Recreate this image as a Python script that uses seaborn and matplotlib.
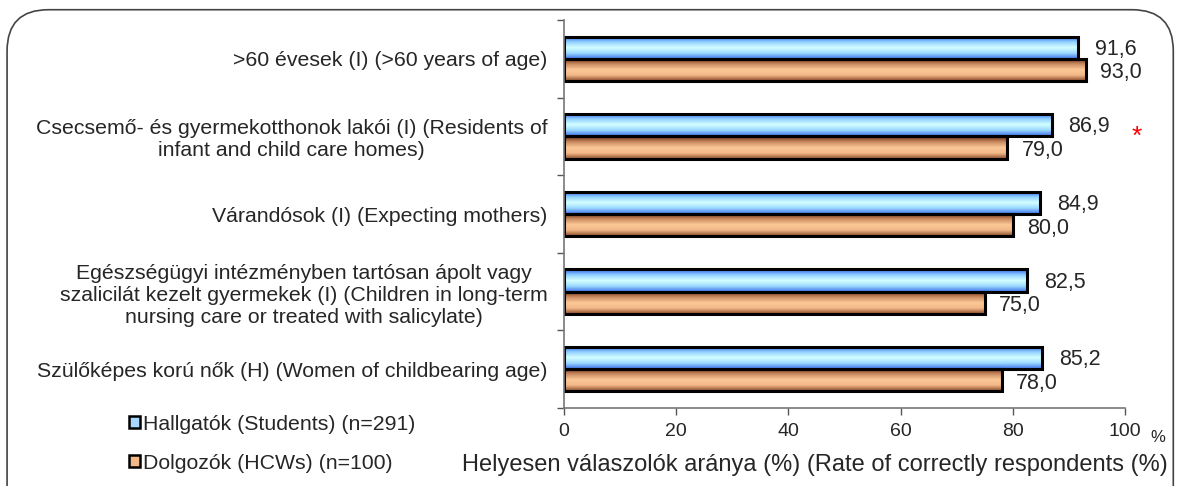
from matplotlib import pyplot as plt
from matplotlib.patches import FancyBboxPatch, Patch
import matplotlib.colors as mcolors
import seaborn as sns
import numpy as np
import pandas as pd


# Dados
categorias = [
    '>60 évesek (I) (>60 years of age)',
    'Csecsemő- és gyermekotthonok lakói (I) (Residents of\ninfant and child care homes)',
    'Várandósok (I) (Expecting mothers)',
    'Egészségügyi intézményben tartósan ápolt vagy\nszalicilát kezelt gyermekek (I) (Children in long-term\nnursing care or treated with salicylate)',
    'Szülőképes korú nők (H) (Women of childbearing age)',
]
hallgatok = [91.6, 86.9, 84.9, 82.5, 85.2]
dolgozok = [93.0, 79.0, 80.0, 75.0, 78.0]
valores_txt_h = ['91,6', '86,9', '84,9', '82,5', '85,2']
valores_txt_d = ['93,0', '79,0', '80,0', '75,0', '78,0']
grupos = ['Hallgatók (Students) (n=291)', 'Dolgozók (HCWs) (n=100)']

df = pd.DataFrame({
    'cat': categorias * 2,
    'val': hallgatok + dolgozok,
    'grupo': [grupos[0]] * 5 + [grupos[1]] * 5,
})

sns.set_style('white')
plt.rcParams['font.family'] = ['Liberation Sans', 'DejaVu Sans']

fig = plt.figure(figsize=(11.78, 4.86), dpi=100)
ax = fig.add_axes([0.4788, 0.1605, 0.4762, 0.7983])

cores = {grupos[0]: '#a8e0ff', grupos[1]: '#f2bc8c'}
sns.barplot(data=df, x='val', y='cat', hue='grupo', hue_order=grupos,
            palette=cores, orient='h', width=0.57, edgecolor='black',
            linewidth=2.2, legend=False, ax=ax)

# gradiente nas barras
grad_azul = mcolors.LinearSegmentedColormap.from_list(
    'az', ['#2f5fe8', '#8fd0ff', '#d4ffff', '#9ad8ff', '#3d6fe8'])
grad_lar = mcolors.LinearSegmentedColormap.from_list(
    'lr', ['#6b2a12', '#c88a60', '#fcc896', '#f2b888', '#8a4a2a'])
n = len(categorias)
for i, p in enumerate(list(ax.patches)):
    cmap = grad_azul if i < n else grad_lar
    x0, y0 = p.get_x(), p.get_y()
    w, h = p.get_width(), p.get_height()
    g = np.linspace(0, 1, 64).reshape(-1, 1)
    im = ax.imshow(g, cmap=cmap, aspect='auto', extent=[x0, x0 + w, y0 + h, y0],
                   zorder=p.get_zorder() + 0.1, interpolation='bilinear')
    im.set_clip_path(p)
    p.set_zorder(p.get_zorder() + 0.2)
    p.set_facecolor('none')

ax.set_xlim(0, 100)
ax.set_ylim(n - 0.5, -0.5)
ax.set_xticks([0, 20, 40, 60, 80, 100])
ax.tick_params(axis='x', labelsize=14, length=5, width=1, color='#555555',
               direction='out', bottom=True, pad=6)
ax.set_yticks(range(n))
ax.set_yticklabels(categorias, fontsize=15.3, multialignment='center')
ax.set_yticks(np.arange(-0.5, n, 1), minor=True)
ax.tick_params(axis='y', which='major', length=0, pad=12)
ax.tick_params(axis='y', which='minor', length=5, width=1, color='#555555',
               direction='out', left=True)
for s in ['top', 'right']:
    ax.spines[s].set_visible(False)
for s in ['left', 'bottom']:
    ax.spines[s].set_color('#777777')
    ax.spines[s].set_linewidth(1.2)
ax.set_xlabel('')
ax.set_ylabel('')

# rótulos de valores
off = 0.57 / 4
for i in range(n):
    ax.text(hallgatok[i] + 3.0, i - off + 0.02, valores_txt_h[i], va='center',
            ha='left', fontsize=15.5)
    ax.text(dolgozok[i] + 2.6, i + off + 0.04, valores_txt_d[i], va='center',
            ha='left', fontsize=15.5)
ax.text(102.1, 1 - 0.0, '*', color='red', fontsize=19, ha='center', va='center')

fig.text(0.983, 0.09, '%', fontsize=12, ha='center')
fig.text(0.692, 0.043, 'Helyesen válaszolók aránya (%) (Rate of correctly respondents (%)',
         fontsize=17, ha='center', va='center')

handles = [Patch(facecolor='#a8d8ff', edgecolor='black', linewidth=1.8),
           Patch(facecolor='#f2b888', edgecolor='black', linewidth=1.8)]
fig.legend(handles, grupos, loc='upper left', bbox_to_anchor=(0.1007, 0.168),
           frameon=False, fontsize=15.3, handlelength=0.5, handleheight=0.5,
           handletextpad=0.15, labelspacing=0.93, borderpad=0)

# moldura arredondada
moldura = FancyBboxPatch((0.006, -0.1), 0.99, 1.08, transform=fig.transFigure,
                         boxstyle='round,pad=0,rounding_size=0.035',
                         facecolor='none', edgecolor='#444444', linewidth=1.2,
                         mutation_aspect=1178 / 486)
fig.patches.append(moldura)

fig.savefig('out.png', dpi=100)
